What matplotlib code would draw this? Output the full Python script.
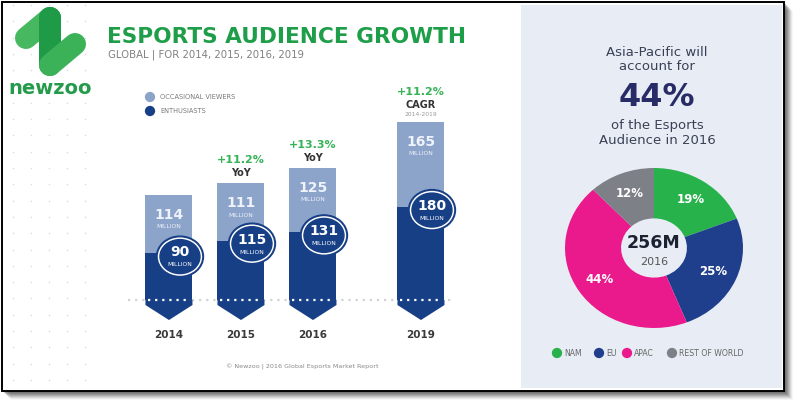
import matplotlib.pyplot as plt
from matplotlib.patches import Rectangle, Ellipse, Polygon
import numpy as np

# audience data (millions)
years = ['2014', '2015', '2016', '2019']
enthusiasts = [90, 115, 131, 180]
occasional = [114, 111, 125, 165]
growth = ['', '+11.2%', '+13.3%', '+11.2%']
growth_note = ['', 'YoY', 'YoY', 'CAGR']
cagr_span = '2014-2019'

# regional split 2016
regions = ['NAM', 'EU', 'APAC', 'REST OF WORLD']
shares = [19, 25, 44, 12]
total_2016 = '256M'

light = '#8da4ca'
dark = '#173f85'
green = '#1f9e4a'
region_colors = ['#27b24b', '#1f3f8c', '#ea1a8c', '#7e8087']

W, H = 794, 404
fig = plt.figure(figsize=(W / 100, H / 100), dpi=100)

# background layer in pixel coordinates
bg = fig.add_axes([0, 0, 1, 1])
bg.set_xlim(0, W)
bg.set_ylim(H, 0)
bg.axis('off')

for k, a in zip(range(9, 0, -1), np.linspace(0.05, 0.35, 9)):
    bg.add_patch(Rectangle((2 + k, 2 + k), 782, 389, color='#555555', alpha=a, lw=0))
bg.add_patch(Rectangle((2, 2), 782, 389, facecolor='white', edgecolor='black', lw=1.4))
bg.add_patch(Rectangle((521, 5), 261, 383, color='#e8edf5', lw=0))

# dotted grid of the logo column
gx, gy = np.meshgrid([13, 31, 49, 67, 85], np.arange(5, 390, 16.3))
bg.scatter(gx.ravel(), gy.ravel(), s=1.3, color='#dcdcdc', lw=0)

# logo: a slanted "N" drawn as one thick stroke
lw_logo = 22 * 0.72
bg.plot([26, 50], [38, 18], color='#45b860', lw=lw_logo, solid_capstyle='round')
bg.plot([50, 50], [18, 65], color='#1f9a47', lw=lw_logo, solid_capstyle='round')
bg.plot([50, 75], [65, 44], color='#3bb258', lw=lw_logo, solid_capstyle='round')
bg.plot([50, 50], [18, 30], color='#1f9a47', lw=lw_logo, solid_capstyle='round')
bg.text(50, 88, 'newzoo', ha='center', va='center', fontsize=14, weight='bold', color='#239b4a')

# titles
bg.text(107, 37, 'ESPORTS AUDIENCE GROWTH', ha='left', va='center', fontsize=15.6,
        weight='bold', color=green)
bg.text(108, 55, 'GLOBAL | FOR 2014, 2015, 2016, 2019', ha='left', va='center',
        fontsize=7.3, color='#808080')

# legend of the bars
bg.scatter([150, 150], [97, 111], s=55, color=[light, dark], lw=0)
bg.text(160, 97, 'OCCASIONAL VIEWERS', ha='left', va='center', fontsize=4.8, color='#7a7a7a')
bg.text(160, 111, 'ENTHUSIASTS', ha='left', va='center', fontsize=4.8, color='#7a7a7a')

bg.text(302, 367, '\u00a9 Newzoo | 2016 Global Esports Market Report', ha='center',
        va='center', fontsize=4.6, color='#8a8a8a')

# right panel text
tc = '#3b4056'
bg.text(657, 52, 'Asia-Pacific will', ha='center', va='center', fontsize=9.5, color=tc)
bg.text(657, 67, 'account for', ha='center', va='center', fontsize=9.5, color=tc)
bg.text(657, 97, '44%', ha='center', va='center', fontsize=23, weight='bold', color='#272c66')
bg.text(657, 125, 'of the Esports', ha='center', va='center', fontsize=9.5, color=tc)
bg.text(657, 140, 'Audience in 2016', ha='center', va='center', fontsize=9.5, color=tc)

leg_x = [557, 599, 627, 672]
bg.scatter(leg_x, [353] * 4, s=55, color=region_colors, lw=0)
for lx, name in zip(leg_x, regions):
    bg.text(lx + 7, 353, name, ha='left', va='center', fontsize=5.6, color='#666666')

# stacked bars
ax = fig.add_axes([110 / W, 1 - 345 / H, 360 / W, 265 / H])
ax.patch.set_alpha(0)
ax.axis('off')
pos = np.array([0, 1, 2, 3.5])
bw = 47 / 72
ax.set_xlim(-0.819, 4.181)
ax.set_ylim(-87, 425.6)
pxx, pxy = 1 / 72, 1 / 0.517  # data units per pixel

ax.bar(pos, enthusiasts, bw, color=dark, zorder=2)
ax.bar(pos, occasional, bw, bottom=enthusiasts, color=light, zorder=2)
for x in pos:
    ax.add_patch(Polygon([(x - bw / 2, 0), (x + bw / 2, 0), (x + bw / 2, -5 * pxy),
                          (x, -20 * pxy), (x - bw / 2, -5 * pxy)],
                         color=dark, lw=0, zorder=2))
ax.plot([-0.57, 3.95], [0, 0], ls=(0, (1, 2.2)), lw=1.6, color='#d2d2d2', zorder=1)
for x in pos:
    ax.plot([x - bw / 2 + 0.04, x + bw / 2 - 0.04], [0, 0], ls=(0, (1, 2.2)), lw=1.6,
            color='white', zorder=3)

for x, e, o, yr, g, note in zip(pos, enthusiasts, occasional, years, growth, growth_note):
    top = e + o
    ax.annotate(str(o), (x, top), xytext=(0, -14.5), textcoords='offset points',
                ha='center', va='center', fontsize=10, weight='bold', color='#eef2fa', zorder=4)
    ax.annotate('MILLION', (x, top), xytext=(0, -23), textcoords='offset points',
                ha='center', va='center', fontsize=4.3, color='#eef2fa', zorder=4)
    cx, cy = x + 11 * pxx, e - 6
    ax.add_patch(Ellipse((cx, cy), 47 * pxx, 41 * pxy, color=dark, zorder=4))
    ax.add_patch(Ellipse((cx, cy), 43 * pxx, 37 * pxy, color='white', zorder=4))
    ax.add_patch(Ellipse((cx, cy), 40 * pxx, 34 * pxy, color=dark, zorder=4))
    ax.annotate(str(e), (cx, cy), xytext=(0, 3), textcoords='offset points',
                ha='center', va='center', fontsize=10, weight='bold', color='white', zorder=5)
    ax.annotate('MILLION', (cx, cy), xytext=(0, -6), textcoords='offset points',
                ha='center', va='center', fontsize=4.3, color='white', zorder=5)
    ax.text(x, -68, yr, ha='center', va='center', fontsize=7.5, weight='bold', color='#3a3a3a')
    if note == 'CAGR':
        ax.annotate(g, (x, top), xytext=(0, 21.5), textcoords='offset points', ha='center',
                    va='center', fontsize=8, weight='bold', color='#35b357')
        ax.annotate(note, (x, top), xytext=(0, 12), textcoords='offset points', ha='center',
                    va='center', fontsize=7, weight='bold', color='#333333')
        ax.annotate(cagr_span, (x, top), xytext=(0, 5.5), textcoords='offset points',
                    ha='center', va='center', fontsize=4.3, color='#999999')
    elif g:
        ax.annotate(g, (x, top), xytext=(0, 16.5), textcoords='offset points', ha='center',
                    va='center', fontsize=8, weight='bold', color='#35b357')
        ax.annotate(note, (x, top), xytext=(0, 7), textcoords='offset points', ha='center',
                    va='center', fontsize=7, weight='bold', color='#333333')

# donut
pa = fig.add_axes([565 / W, 1 - 328 / H, 178 / W, 160 / H])
pa.patch.set_alpha(0)
pa.pie(shares, colors=region_colors, startangle=90, counterclock=False,
       wedgeprops=dict(width=0.63, edgecolor='none'), autopct='%.0f%%', pctdistance=0.73,
       textprops=dict(color='white', fontsize=8.5, weight='bold'))
pa.set_aspect('auto')
pa.set_xlim(-1, 1)
pa.set_ylim(-1, 1)
pa.axis('off')
pa.text(0, 0.06, total_2016, ha='center', va='center', fontsize=12.5, weight='bold', color='#1d2233')
pa.text(0, -0.17, '2016', ha='center', va='center', fontsize=8, color='#555555')

fig.savefig('out.png', dpi=100)
